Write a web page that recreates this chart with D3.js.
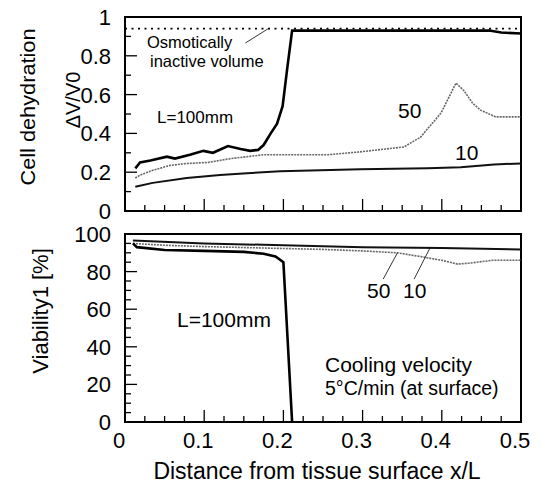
<!DOCTYPE html>
<html>
<head>
<meta charset="utf-8">
<script src="https://cdn.jsdelivr.net/npm/d3@7"></script>
<style>
body { margin: 0; background: #fff; }
text { font-family: "Liberation Sans", Arial, Helvetica, sans-serif; fill: #000; }
</style>
</head>
<body>
<div id="chart"></div>
<script>
// top panel: cell dehydration dV/V0
var topX100 = [0.013,0.019,0.032,0.053,0.063,0.082,0.099,0.111,0.13,0.146,0.158,0.168,0.175,0.184,0.192,0.199,0.205,0.211,0.3,0.46,0.475,0.5];
var topY100 = [0.22,0.25,0.26,0.28,0.27,0.29,0.31,0.30,0.335,0.32,0.31,0.315,0.34,0.40,0.45,0.54,0.74,0.93,0.93,0.93,0.92,0.915];
var topX50 = [0.013,0.019,0.035,0.057,0.078,0.104,0.133,0.175,0.213,0.256,0.297,0.352,0.373,0.399,0.418,0.428,0.439,0.449,0.468,0.5];
var topY50 = [0.17,0.185,0.21,0.235,0.245,0.25,0.27,0.29,0.29,0.29,0.305,0.33,0.38,0.505,0.66,0.62,0.555,0.52,0.485,0.485];
var topX10 = [0.013,0.035,0.078,0.12,0.154,0.196,0.247,0.297,0.382,0.424,0.466,0.5];
var topY10 = [0.125,0.145,0.17,0.185,0.195,0.205,0.21,0.215,0.22,0.225,0.24,0.245];
var inactiveVolume = 0.94;

// bottom panel: viability [%]
var botX100 = [0.01,0.015,0.05,0.1,0.15,0.175,0.19,0.2,0.211];
var botY100 = [95,93,91.5,91,90.5,89.5,88,85,0];
var botX50 = [0.01,0.05,0.1,0.15,0.2,0.25,0.3,0.344,0.373,0.4,0.42,0.435,0.464,0.5];
var botY50 = [95,94,93.3,92.8,92.3,91.8,91,90,88,86,84,84.5,86,86];
var botX10 = [0.01,0.1,0.2,0.3,0.4,0.5];
var botY10 = [96.5,95,94,93,92.5,91.8];

var xTicks = [0, 0.1, 0.2, 0.3, 0.4, 0.5];
var topTicks = [0, 0.2, 0.4, 0.6, 0.8, 1];
var botTicks = [0, 20, 40, 60, 80, 100];

function zip(xs, ys) {
    return xs.map(function(v, i) { return {x: v, y: ys[i]}; });
}

var width = 541, height = 492;
var svg = d3.select("#chart").append("svg")
    .attr("width", width).attr("height", height);

var x = d3.scaleLinear().domain([0, 0.5]).range([125, 521]);
var yTop = d3.scaleLinear().domain([0, 1]).range([211, 17]);
var yBot = d3.scaleLinear().domain([0, 100]).range([422, 234]);

function panel(y, minorStep, yTickVals, fmt) {
    var g = svg.append("g");
    var r = y.range();
    // minor / major ticks pointing inward
    var xs = d3.range(0, 0.5001, 0.025);
    xs.forEach(function(v, i) {
        var len = (i % 4 == 0) ? 12 : 6;
        g.append("line")
            .attr("x1", x(v)).attr("x2", x(v))
            .attr("y1", r[0]).attr("y2", r[0] - len)
            .attr("stroke", "#000").attr("stroke-width", 1.3);
    });
    var d = y.domain();
    var ys = d3.range(d[0], d[1] + minorStep / 2, minorStep);
    ys.forEach(function(v) {
        var major = yTickVals.some(function(t) { return Math.abs(t - v) < 1e-6; });
        g.append("line")
            .attr("x1", x(0)).attr("x2", x(0) + (major ? 12 : 6))
            .attr("y1", y(v)).attr("y2", y(v))
            .attr("stroke", "#000").attr("stroke-width", 1.3);
    });
    g.selectAll("text.ytick").data(yTickVals).enter().append("text")
        .attr("class", "ytick")
        .attr("x", 111)
        .attr("y", function(v) { return y(v); })
        .attr("dy", "0.36em")
        .attr("text-anchor", "end")
        .style("font-size", "22px")
        .text(fmt);
    g.append("rect")
        .attr("x", x(0)).attr("y", r[1])
        .attr("width", x(0.5) - x(0)).attr("height", r[0] - r[1])
        .attr("fill", "none").attr("stroke", "#000").attr("stroke-width", 2);
    return g;
}

var gTop = panel(yTop, 0.1, topTicks, function(v) { return v == 0 || v == 1 ? String(v) : v.toFixed(1); });
var gBot = panel(yBot, 5, botTicks, function(v) { return String(v); });

var lineTop = d3.line().x(function(d) { return x(d.x); }).y(function(d) { return yTop(d.y); });
var lineBot = d3.line().x(function(d) { return x(d.x); }).y(function(d) { return yBot(d.y); });

// osmotically inactive volume
gTop.append("line")
    .attr("x1", x(0)).attr("x2", x(0.5))
    .attr("y1", yTop(inactiveVolume)).attr("y2", yTop(inactiveVolume))
    .attr("stroke", "#000").attr("stroke-width", 1.6)
    .style("stroke-dasharray", "2,4.5");

gTop.append("path").datum(zip(topX10, topY10))
    .attr("fill", "none").attr("stroke", "#111").attr("stroke-width", 2).attr("d", lineTop);
gTop.append("path").datum(zip(topX50, topY50))
    .attr("fill", "none").attr("stroke", "#666").attr("stroke-width", 1.6)
    .style("stroke-dasharray", "2,1").attr("d", lineTop);
gTop.append("path").datum(zip(topX100, topY100))
    .attr("fill", "none").attr("stroke", "#000").attr("stroke-width", 2.6).attr("d", lineTop);

gBot.append("path").datum(zip(botX10, botY10))
    .attr("fill", "none").attr("stroke", "#111").attr("stroke-width", 2).attr("d", lineBot);
gBot.append("path").datum(zip(botX50, botY50))
    .attr("fill", "none").attr("stroke", "#666").attr("stroke-width", 1.6)
    .style("stroke-dasharray", "2,1").attr("d", lineBot);
gBot.append("path").datum(zip(botX100, botY100))
    .attr("fill", "none").attr("stroke", "#000").attr("stroke-width", 2.6).attr("d", lineBot);

// x tick labels
svg.selectAll("text.xtick").data(xTicks).enter().append("text")
    .attr("class", "xtick")
    .attr("x", function(v) { return x(v) - 6; })
    .attr("y", 448)
    .attr("text-anchor", "middle")
    .style("font-size", "22px")
    .text(function(v) { return v == 0 ? "0" : v.toFixed(1); });

// axis titles
svg.append("text")
    .attr("x", 317).attr("y", 479)
    .attr("text-anchor", "middle")
    .style("font-size", "23px")
    .text("Distance from tissue surface x/L");
svg.append("text")
    .attr("transform", "translate(35,107) rotate(-90)")
    .attr("text-anchor", "middle")
    .attr("textLength", 157).attr("lengthAdjust", "spacingAndGlyphs")
    .style("font-size", "21px")
    .text("Cell dehydration");
svg.append("text")
    .attr("transform", "translate(80,100) rotate(-90)")
    .attr("text-anchor", "middle")
    .style("font-size", "20px")
    .text("\u0394V/V0");
svg.append("text")
    .attr("transform", "translate(48,311) rotate(-90)")
    .attr("text-anchor", "middle")
    .style("font-size", "22px")
    .text("Viability1 [%]");

// annotations, top panel
function label(g, px, py, txt, size) {
    g.append("text").attr("x", px).attr("y", py)
        .style("font-size", size + "px").text(txt);
}
label(gTop, 147, 48, "Osmotically", 16.5);
label(gTop, 150, 67, "inactive volume", 16.5);
gTop.append("line")
    .attr("x1", x(0.152)).attr("y1", yTop(0.866))
    .attr("x2", x(0.181)).attr("y2", yTop(inactiveVolume))
    .attr("stroke", "#000").attr("stroke-width", 0.8);
label(gTop, 157, 123, "L=100mm", 17);
label(gTop, 398, 118, "50", 21);
label(gTop, 455, 160, "10", 21);

// annotations, bottom panel
label(gBot, 177, 327, "L=100mm", 21);
label(gBot, 367, 298, "50", 21);
label(gBot, 403, 298, "10", 21);
gBot.append("line")
    .attr("x1", x(0.326)).attr("y1", yBot(76))
    .attr("x2", x(0.344)).attr("y2", yBot(90))
    .attr("stroke", "#000").attr("stroke-width", 0.8);
gBot.append("line")
    .attr("x1", x(0.365)).attr("y1", yBot(76))
    .attr("x2", x(0.385)).attr("y2", yBot(92.5))
    .attr("stroke", "#000").attr("stroke-width", 0.8);
label(gBot, 325, 372, "Cooling velocity", 21);
label(gBot, 325, 395, "5\u00B0C/min (at surface)", 19.5);
</script>
</body>
</html>
